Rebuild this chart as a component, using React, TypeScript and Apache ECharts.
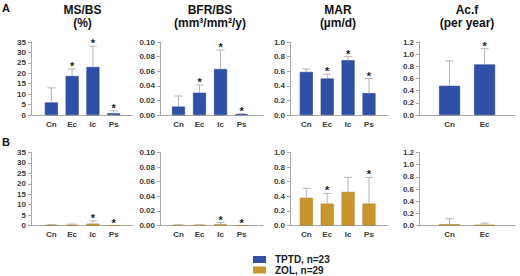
import React, { useEffect, useRef } from "react";
import * as echarts from "echarts";

// ---- categories & labels ----
const CATS4 = ["Cn", "Ec", "Ic", "Ps"];
const CATS2 = ["Cn", "Ec"];
const TITLES = ["MS/BS\n(%)", "BFR/BS\n(mm³/mm²/y)", "MAR\n(µm/d)", "Ac.f\n(per year)"];
const GROUPS = ["TPTD, n=23", "ZOL, n=29"];
const ROW_LABELS = ["A", "B"];

// ---- Y axis ticks ----
const Y_MAX = [35, 0.1, 1.0, 1.2];
const Y_STEP = [5, 0.02, 0.2, 0.2];
const Y_DEC = [0, 2, 1, 1];

// ---- TPTD (row A) ----
const msbsTPTD = [6.0, 18.7, 23.0, 0.8];
const msbsTPTDsd = [7.0, 3.3, 10.0, 1.2];
const msbsTPTDstar = [0, 1, 1, 1];
const bfrTPTD = [0.0115, 0.0305, 0.063, 0.001];
const bfrTPTDsd = [0.0145, 0.0105, 0.026, 0.001];
const bfrTPTDstar = [0, 1, 1, 1];
const marTPTD = [0.59, 0.5, 0.75, 0.3];
const marTPTDsd = [0.04, 0.06, 0.05, 0.2];
const marTPTDstar = [0, 1, 1, 1];
const acfTPTD = [0.48, 0.83];
const acfTPTDsd = [0.41, 0.26];
const acfTPTDstar = [0, 1];

// ---- ZOL (row B) ----
const msbsZOL = [0.2, 0.3, 0.9, 0.0];
const msbsZOLsd = [0.3, 0.4, 1.3, 0.0];
const msbsZOLstar = [0, 0, 1, 1];
const bfrZOL = [0.0005, 0.0005, 0.0015, 0.0];
const bfrZOLsd = [0.0005, 0.0005, 0.0025, 0.0];
const bfrZOLstar = [0, 0, 1, 1];
const marZOL = [0.38, 0.3, 0.46, 0.3];
const marZOLsd = [0.13, 0.14, 0.2, 0.36];
const marZOLstar = [0, 1, 0, 1];
const acfZOL = [0.02, 0.01];
const acfZOLsd = [0.09, 0.03];
const acfZOLstar = [0, 0];

const COLORS = ["#3050a8", "#c9952f"];
const BORDERS = ["#233f8f", "#b07f22"];
const FONT = '"Liberation Sans", Arial, "DejaVu Sans", sans-serif';

export default function App() {
  const ref = useRef<HTMLDivElement>(null);

  useEffect(() => {
    if (!ref.current) return;
    const chart = echarts.init(ref.current, null, { renderer: "svg" });

    const panels = [
      { cats: CATS4, left: 31, width: 102, xmin: 0.02, xmax: 4.93, barW: 13, mid: 82.5 },
      { cats: CATS4, left: 160, width: 103, xmin: 0.12, xmax: 5.02, barW: 13, mid: 210 },
      { cats: CATS4, left: 290, width: 98, xmin: 0.22, xmax: 4.91, barW: 13, mid: 338 },
      { cats: CATS2, left: 419, width: 96, xmin: 0.126, xmax: 2.87, barW: 21, mid: 467 },
    ];
    const rows = [
      { top: 42, height: 73 },
      { top: 152.5, height: 73 },
    ];
    const dataRows = [
      [
        [msbsTPTD, msbsTPTDsd, msbsTPTDstar],
        [bfrTPTD, bfrTPTDsd, bfrTPTDstar],
        [marTPTD, marTPTDsd, marTPTDstar],
        [acfTPTD, acfTPTDsd, acfTPTDstar],
      ],
      [
        [msbsZOL, msbsZOLsd, msbsZOLstar],
        [bfrZOL, bfrZOLsd, bfrZOLstar],
        [marZOL, marZOLsd, marZOLstar],
        [acfZOL, acfZOLsd, acfZOLstar],
      ],
    ];

    const grid: any[] = [];
    const xAxis: any[] = [];
    const yAxis: any[] = [];
    const series: any[] = [];
    const axisColor = "#a8a8a8";
    const labelColor = "#3a3a3a";

    rows.forEach((row, r) => {
      panels.forEach((p, c) => {
        const idx = grid.length;
        grid.push({ left: p.left, top: row.top, width: p.width, height: row.height, containLabel: false });
        const cats = p.cats;
        xAxis.push({
          type: "value",
          gridIndex: idx,
          min: p.xmin,
          max: p.xmax,
          splitLine: { show: false },
          axisLine: { show: true, onZero: false, lineStyle: { color: axisColor, width: 1 } },
          axisTick: { show: false },
          axisLabel: {
            customValues: cats.map((_, i) => i + 1),
            formatter: (v: number) => cats[Math.round(v) - 1] ?? "",
            margin: 5,
            fontSize: 8,
            fontWeight: "bold",
            fontFamily: FONT,
            color: labelColor,
          },
        });
        yAxis.push({
          type: "value",
          gridIndex: idx,
          min: 0,
          max: Y_MAX[c],
          interval: Y_STEP[c],
          splitLine: { show: false },
          axisLine: { show: true, lineStyle: { color: axisColor, width: 1 } },
          axisTick: { show: true, length: 3, lineStyle: { color: axisColor } },
          axisLabel: {
            formatter: (v: number) => v.toFixed(Y_DEC[c]),
            margin: 5,
            fontSize: 8,
            fontWeight: "bold",
            fontFamily: FONT,
            color: labelColor,
          },
        });
        const [means, sds, stars] = dataRows[r][c];
        series.push({
          type: "bar",
          name: GROUPS[r],
          xAxisIndex: idx,
          yAxisIndex: idx,
          barWidth: p.barW,
          data: means.map((m, i) => [i + 1, m]),
          itemStyle: { color: COLORS[r], borderColor: BORDERS[r], borderWidth: 0.6 },
          z: 2,
        });
        series.push({
          type: "custom",
          name: "err" + idx,
          xAxisIndex: idx,
          yAxisIndex: idx,
          z: 3,
          data: means.map((m, i) => [i + 1, m, sds[i], stars[i]]),
          renderItem: (_params: any, api: any) => {
            const x = api.value(0);
            const m = api.value(1);
            const sd = api.value(2);
            const star = api.value(3);
            const base = api.coord([x, m]);
            const top = api.coord([x, m + sd]);
            const children: any[] = [];
            if (sd > 0) {
              children.push({
                type: "line",
                shape: { x1: base[0], y1: base[1], x2: top[0], y2: top[1] },
                style: { stroke: "#b5b5b5", lineWidth: 1 },
              });
              children.push({
                type: "line",
                shape: { x1: top[0] - 4, y1: top[1], x2: top[0] + 4, y2: top[1] },
                style: { stroke: "#b5b5b5", lineWidth: 1 },
              });
            }
            if (star) {
              children.push({
                type: "text",
                x: top[0],
                y: top[1] - 3,
                style: {
                  text: "*",
                  fill: "#222",
                  font: `bold 11px ${FONT}`,
                  align: "center",
                  verticalAlign: "middle",
                  textAlign: "center",
                  textVerticalAlign: "middle",
                },
              });
            }
            return { type: "group", children };
          },
        });
      });
    });

    const graphic: any[] = [];
    panels.forEach((p, c) => {
      graphic.push({
        type: "text",
        x: p.mid,
        y: 3,
        style: {
          text: TITLES[c],
          fill: "#111",
          font: `bold 12px ${FONT}`,
          lineHeight: 13,
          align: "center",
          verticalAlign: "top",
          textAlign: "center",
          textVerticalAlign: "top",
        },
      });
    });
    graphic.push({
      type: "text",
      x: 2,
      y: 2,
      style: { text: ROW_LABELS[0], fill: "#111", font: `bold 11px ${FONT}`, align: "left", verticalAlign: "top" },
    });
    graphic.push({
      type: "text",
      x: 2,
      y: 136,
      style: { text: ROW_LABELS[1], fill: "#111", font: `bold 11px ${FONT}`, align: "left", verticalAlign: "top" },
    });

    chart.setOption({
      animation: false,
      backgroundColor: "#ffffff",
      grid,
      xAxis,
      yAxis,
      series,
      graphic,
      legend: {
        data: GROUPS,
        orient: "vertical",
        left: 253,
        top: 254.5,
        padding: 0,
        itemGap: 0.5,
        itemWidth: 13,
        itemHeight: 7,
        icon: "rect",
        selectedMode: false,
        itemStyle: { borderWidth: 0 },
        textStyle: {
          fontSize: 10,
          fontWeight: "bold",
          fontFamily: FONT,
          color: "#222",
          lineHeight: 10,
          padding: [0, 0, 0, 4],
        },
      },
    });

    return () => chart.dispose();
  }, []);

  return (
    <div
      ref={ref}
      style={{ position: "fixed", left: 0, top: 0, width: 520, height: 276, background: "#fff" }}
    />
  );
}
